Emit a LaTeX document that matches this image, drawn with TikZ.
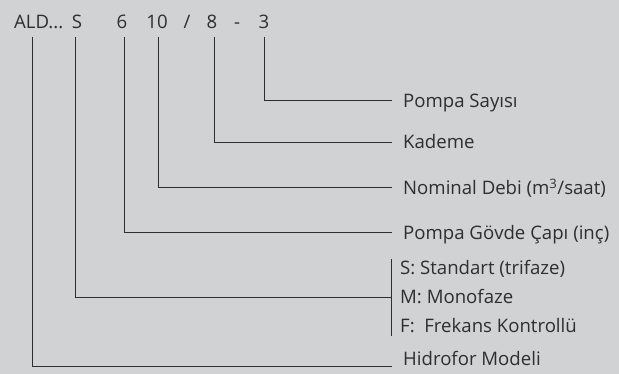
\documentclass[tikz,border=0pt]{standalone}
\usepackage{fontspec}
\setmainfont{Open Sans}
\definecolor{bg}{HTML}{D1D2D4}
\definecolor{ink}{HTML}{2E2E30}
\begin{document}
\begin{tikzpicture}[x=1pt,y=-1pt,
  tok/.style={anchor=base,inner sep=0pt,text=ink,font=\fontsize{18.6}{22}\selectfont},
  lab/.style={anchor=base west,inner sep=0pt,text=ink,font=\fontsize{18.6}{22}\selectfont},
  conn/.style={draw=ink,line width=0.8pt}]
\fill[bg] (0,0) rectangle (619,374);
\useasboundingbox (0,0) rectangle (619,374);
% top code
\node[tok,anchor=base west] (tALD) at (14,29) {ALD...};
\node[tok] (tS) at (77,29) {S};
\node[tok] (t6) at (122,29) {6};
\node[tok] (t10) at (157,29) {10};
\node[tok] (tsl) at (187,29) {/};
\node[tok] (t8) at (212,29) {8};
\node[tok] (tdash) at (237,29) {-};
\node[tok] (t3) at (264,29) {3};
% line ends
\coordinate (e3) at (392,100);
\coordinate (e8) at (392,142);
\coordinate (e10) at (392,187);
\coordinate (e6) at (392,232);
\coordinate (eS) at (391,297);
\coordinate (eA) at (392,366);
\coordinate (bTop) at (391,259);
\coordinate (bBot) at (391,336);
% labels
\node[lab] (l3) at (403,108) {Pompa Sayısı};
\node[lab] (l8) at (403,149) {Kademe};
\node[lab] (l10) at (403,195) {Nominal Debi (m\textsuperscript{3}/saat)};
\node[lab] (l6) at (403,240) {Pompa Gövde Çapı (inç)};
\node[lab] (lS1) at (400,275) {S: Standart (trifaze)};
\node[lab] (lS2) at (400,304) {M: Monofaze};
\node[lab] (lS3) at (400,333) {F:\ \ Frekans Kontrollü};
\node[lab] (lA) at (403,366) {Hidrofor Modeli};
% connectors
\draw[conn] (264,37) coordinate (s3) (s3) |- (e3);
\draw[conn] (214,37) coordinate (s8) (s8) |- (e8);
\draw[conn] (158,37) coordinate (s10) (s10) |- (e10);
\draw[conn] (124,37) coordinate (s6) (s6) |- (e6);
\draw[conn] (75,37) coordinate (sS) (sS) |- (eS);
\draw[conn] (32,37) coordinate (sA) (sA) |- (eA);
\draw[conn] (bTop) -- (bBot);
\end{tikzpicture}
\end{document}
